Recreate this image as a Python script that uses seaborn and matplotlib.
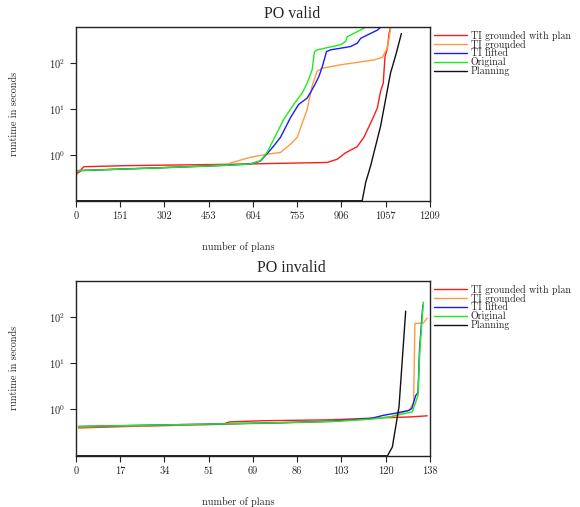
import numpy as np
import pandas as pd
import matplotlib
matplotlib.use("Agg")
import matplotlib.pyplot as plt
import matplotlib.ticker as mticker
import seaborn as sns

SERIES = ["TI grounded with plan", "TI grounded", "TI lifted", "Original", "Planning"]
COLORS = ["#ff1a1a", "#ff9a40", "#1a1aff", "#1aee1a", "#111111"]

# ---- PO valid ----
RED_X_V = [0, 5, 14, 20, 27, 173, 527, 858, 893, 921, 961, 984, 1013, 1030, 1041, 1050, 1056, 1064, 1070, 1076]
RED_Y_V = [0.36, 0.40, 0.43, 0.50, 0.55, 0.58, 0.62, 0.68, 0.80, 1.10, 1.50, 2.4, 5.9, 10.5, 24, 36, 136, 206, 436, 620]
ORANGE_X_V = [0, 100, 300, 516, 527, 596, 653, 699, 733, 756, 778, 790, 807, 824, 842, 904, 1018, 1047, 1063, 1070, 1076]
ORANGE_Y_V = [0.45, 0.48, 0.53, 0.60, 0.66, 0.88, 1.03, 1.12, 1.7, 2.4, 5.9, 9.7, 31, 65, 76, 90, 115, 130, 206, 339, 620]
BLUE_X_V = [0, 288, 516, 596, 630, 653, 676, 699, 733, 761, 790, 807, 819, 830, 842, 856, 870, 938, 961, 973, 1030, 1045]
BLUE_Y_V = [0.45, 0.52, 0.59, 0.63, 0.73, 1.05, 1.56, 2.4, 6.4, 12.4, 17, 26, 36, 50, 83, 174, 190, 224, 264, 339, 510, 620]
GREEN_X_V = [0, 288, 516, 596, 630, 653, 670, 687, 710, 744, 773, 790, 807, 815, 824, 904, 921, 927, 984, 992]
GREEN_Y_V = [0.45, 0.52, 0.59, 0.63, 0.74, 1.12, 1.85, 3.0, 5.9, 12.4, 22, 36, 70, 174, 190, 245, 287, 366, 560, 620]
PLAN_X_V = [0, 978, 990, 1007, 1024, 1041, 1058, 1075, 1093, 1112]
PLAN_Y_V = [0.1, 0.1, 0.25, 0.58, 1.56, 4.2, 15.9, 60, 148, 430]
XTICKS_V = ["0", "151", "302", "453", "604", "755", "906", "1057", "1209"]
XMAX_V = 1209

# ---- PO invalid ----
RED_X_I = [1, 20, 57, 60, 72, 100, 115, 130, 137]
RED_Y_I = [0.40, 0.43, 0.48, 0.54, 0.57, 0.60, 0.65, 0.69, 0.73]
ORANGE_X_I = [1, 30, 57, 80, 100, 115, 123, 130, 131.7, 132.2, 135.5, 137]
ORANGE_Y_I = [0.42, 0.45, 0.48, 0.51, 0.55, 0.62, 0.70, 0.97, 1.4, 72, 74, 95]
BLUE_X_I = [1, 30, 57, 80, 100, 115, 120, 124, 129.7, 131, 132.5, 133.4, 134.0, 135.3]
BLUE_Y_I = [0.43, 0.46, 0.49, 0.52, 0.56, 0.64, 0.75, 0.82, 0.95, 1.05, 2.0, 2.3, 20, 180]
GREEN_X_I = [1, 30, 57, 80, 100, 115, 122.8, 131.2, 133.4, 134.2, 135.5]
GREEN_Y_I = [0.43, 0.46, 0.49, 0.52, 0.55, 0.62, 0.70, 0.89, 2.0, 23, 209]
PLAN_X_I = [0, 121.5, 123.4, 126, 128.6]
PLAN_Y_I = [0.1, 0.1, 0.155, 1.15, 133]
XTICKS_I = ["0", "17", "34", "51", "69", "86", "103", "120", "138"]
XMAX_I = 138

sns.set_style("white")
plt.rcParams.update({
    "font.family": "serif",
    "font.serif": ["cmr10", "DejaVu Serif"],
    "mathtext.fontset": "cm",
    "axes.formatter.use_mathtext": True,
    "axes.unicode_minus": False,
})


def make_df(xs, ys):
    frames = []
    for name, x, y in zip(SERIES, xs, ys):
        frames.append(pd.DataFrame({"plans": x, "runtime": y, "series": name}))
    return pd.concat(frames, ignore_index=True)


def draw(ax, df, title, ticklabels, xmax):
    sns.lineplot(data=df, x="plans", y="runtime", hue="series", hue_order=SERIES,
                 palette=COLORS, estimator=None, sort=False, linewidth=1.0, ax=ax)
    ax.set_yscale("log")
    ax.set_ylim(0.1, 600)
    ax.set_xlim(0, xmax)
    ax.yaxis.set_major_locator(mticker.FixedLocator([1, 10, 100]))
    ax.yaxis.set_minor_locator(mticker.NullLocator())
    ax.set_xticks(np.linspace(0, xmax, len(ticklabels)))
    ax.set_xticklabels(ticklabels)
    ax.tick_params(axis="both", which="major", direction="out", length=4, width=0.8,
                   labelsize=7.5, color="#222222", left=True, bottom=True)
    for s in ax.spines.values():
        s.set_color("#222222")
        s.set_linewidth(1.0)
    ax.set_title(title, fontsize=11.5, pad=6.5, x=0.61, family="Liberation Serif")
    ax.set_xlabel("number of plans", fontsize=7.3)
    ax.xaxis.set_label_coords(0.46, -0.235)
    ax.set_ylabel("runtime in seconds", fontsize=7.3, labelpad=22)
    ax.legend(loc="upper left", bbox_to_anchor=(1.0, 1.0), frameon=False,
              fontsize=7.2, labelspacing=-0.1, handlelength=3.3, handletextpad=0.4,
              borderaxespad=0.0)


fig = plt.figure(figsize=(5.8, 5.07), dpi=100)
ax1 = fig.add_axes([0.131, 0.604, 0.610, 0.343])
ax2 = fig.add_axes([0.131, 0.101, 0.610, 0.345])

df_v = make_df([RED_X_V, ORANGE_X_V, BLUE_X_V, GREEN_X_V, PLAN_X_V],
               [RED_Y_V, ORANGE_Y_V, BLUE_Y_V, GREEN_Y_V, PLAN_Y_V])
df_i = make_df([RED_X_I, ORANGE_X_I, BLUE_X_I, GREEN_X_I, PLAN_X_I],
               [RED_Y_I, ORANGE_Y_I, BLUE_Y_I, GREEN_Y_I, PLAN_Y_I])

draw(ax1, df_v, "PO valid", XTICKS_V, XMAX_V)
draw(ax2, df_i, "PO invalid", XTICKS_I, XMAX_I)

fig.savefig("out.png", dpi=100)
